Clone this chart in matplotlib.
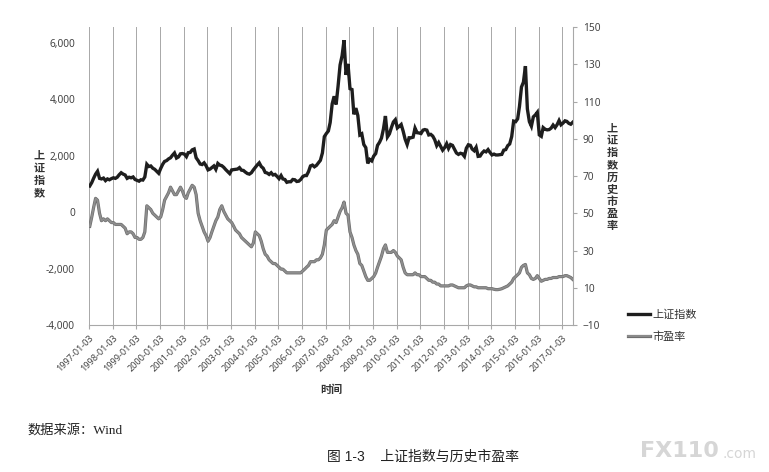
import matplotlib
matplotlib.use("Agg")
import matplotlib.pyplot as plt
import matplotlib.patheffects as pe
from matplotlib.ticker import FuncFormatter, FixedLocator
import pandas as pd

plt.rcParams['font.family'] = ['Noto Sans', 'Noto Sans CJK SC', 'DejaVu Sans']

# ---------------------------------------------------------------------------
# data (monthly)
# ---------------------------------------------------------------------------
sse_index = [
    # 1997
    930, 1050, 1200, 1350, 1450, 1200, 1180, 1210, 1120, 1180, 1150, 1190,
    # 1998
    1220, 1200, 1240, 1330, 1400, 1350, 1320, 1200, 1240, 1220, 1250, 1160,
    # 1999
    1130, 1100, 1150, 1140, 1250, 1700, 1620, 1640, 1560, 1520, 1450, 1380,
    # 2000
    1550, 1700, 1800, 1830, 1890, 1930, 2020, 2100, 1920, 1960, 2070, 2080,
    # 2001
    2060, 1970, 2110, 2120, 2210, 2240, 1930, 1830, 1710, 1690, 1750, 1650,
    # 2002
    1500, 1530, 1580, 1640, 1520, 1730, 1670, 1650, 1590, 1510, 1440, 1370,
    # 2003
    1500, 1510, 1520, 1530, 1580, 1490, 1480, 1420, 1370, 1350, 1400, 1500,
    # 2004
    1590, 1680, 1750, 1620, 1560, 1410, 1390, 1340, 1400, 1320, 1340, 1270,
    # 2005
    1190, 1300, 1180, 1160, 1060, 1080, 1080, 1160, 1150, 1090, 1100, 1160,
    # 2006
    1260, 1300, 1300, 1440, 1640, 1670, 1610, 1660, 1750, 1840, 2100, 2680,
    # 2007
    2790, 2880, 3180, 3840, 4110, 3820, 4470, 5220, 5550, 6100, 4870, 5260,
    # 2008
    4380, 4350, 3470, 3690, 3430, 2740, 2780, 2400, 2290, 1730, 1870, 1820,
    # 2009
    1990, 2080, 2370, 2480, 2630, 2960, 3410, 2670, 2780, 3000, 3200, 3280,
    # 2010
    2990, 3050, 3110, 2870, 2590, 2400, 2640, 2640, 2660, 2980, 2820, 2810,
    # 2011
    2790, 2910, 2930, 2910, 2740, 2760, 2700, 2570, 2360, 2470, 2330, 2200,
    # 2012
    2290, 2430, 2260, 2400, 2370, 2230, 2100, 2050, 2090, 2070, 1980, 2270,
    # 2013
    2390, 2370, 2240, 2180, 2300, 1980, 1990, 2100, 2170, 2140, 2220, 2120,
    # 2014
    2030, 2060, 2030, 2030, 2040, 2050, 2200, 2220, 2360, 2420, 2680, 3230,
    # 2015
    3210, 3310, 3750, 4440, 4610, 5180, 3660, 3210, 3050, 3380, 3450, 3540,
    # 2016
    2740, 2690, 3000, 2940, 2920, 2930, 2980, 3090, 3000, 3100, 3250, 3100,
    # 2017
    3160, 3240, 3220, 3150, 3120, 3190,
]

pe_ratio = [
    # 1997
    43, 48, 53, 58, 57, 50, 46, 47, 46, 47, 46, 45,
    # 1998
    45, 44, 44, 44, 44, 43, 42, 39, 40, 40, 39, 37,
    # 1999
    37, 36, 36, 37, 40, 54, 53, 52, 50, 49, 48, 47,
    # 2000
    48, 52, 57, 59, 61, 64, 62, 60, 60, 62, 64, 62,
    # 2001
    59, 58, 61, 63, 65, 64, 60, 50, 46, 43, 40, 38,
    # 2002
    35, 37, 40, 43, 46, 48, 52, 54, 51, 49, 47, 46,
    # 2003
    45, 43, 41, 40, 39, 37, 36, 35, 34, 33, 32, 34,
    # 2004
    40, 39, 38, 35, 31, 28, 27, 25, 24, 23, 23, 22,
    # 2005
    21, 20, 20, 19, 18, 18, 18, 18, 18, 18, 18, 18,
    # 2006
    19, 20, 21, 22, 24, 24, 24, 25, 25, 26, 28, 33,
    # 2007
    41, 42, 43, 44, 46, 45, 48, 51, 53, 56, 50, 49,
    # 2008
    40, 37, 33, 30, 28, 23, 22, 19, 16, 14, 14, 15,
    # 2009
    16, 18, 21, 24, 27, 31, 33, 29, 29, 29, 30, 29,
    # 2010
    27, 26, 25, 21, 18, 17, 17, 17, 17, 18, 17, 17,
    # 2011
    16, 16, 16, 15, 14, 14, 13, 13, 12, 12, 11, 11,
    # 2012
    11, 11, 11, 11.5, 11.5, 11, 10.5, 10, 10, 10, 10, 11,
    # 2013
    11.5, 11.5, 11, 10.5, 10.5, 10, 10, 10, 10, 10, 9.5, 9.5,
    # 2014
    9.5, 9.2, 9, 9, 9.2, 9.5, 10, 10.5, 11, 12, 13, 15,
    # 2015
    16, 17, 18, 21, 22, 22.5, 18, 17, 15, 14.5, 15, 16.5,
    # 2016
    15, 13.5, 14, 14.5, 14.5, 15, 15, 15.5, 15.5, 15.5, 16, 16,
    # 2017
    16, 16.5, 16.5, 16, 15.5, 14.5,
]

dates = pd.date_range("1997-01-01", periods=len(sse_index), freq="MS") + pd.Timedelta(days=14)
tick_labels = [f"{y}-01-03" for y in range(1997, 2018)]

# ---------------------------------------------------------------------------
# figure
# ---------------------------------------------------------------------------
fig = plt.figure(figsize=(7.69, 4.72), dpi=100)
ax = fig.add_axes([0.1157, 0.3114, 0.6294, 0.6314])
ax2 = ax.twinx()

GRID = "#a8a8a8"
TXT = "#444444"

ln1, = ax.plot(dates, sse_index, color="#1e1e1e", lw=2.4, zorder=3,
               solid_joinstyle="miter")
ln2, = ax2.plot(dates, pe_ratio, color="#8e8e8e", lw=1.3, zorder=3,
                path_effects=[pe.Stroke(linewidth=2.3, foreground="#6e6e6e"), pe.Normal()])

ax.set_ylim(-4000, 6567)
ax2.set_ylim(-10, 150)
ax.set_xlim(pd.Timestamp("1997-01-03"), pd.Timestamp("2017-06-18"))

ax.set_yticks(range(-4000, 6001, 2000))
ax.yaxis.set_major_formatter(FuncFormatter(lambda v, p: f"{int(v):,}"))
ax2.set_yticks(range(-10, 151, 20))

ax.xaxis.set_major_locator(FixedLocator(
    [matplotlib.dates.date2num(pd.Timestamp(t)) for t in tick_labels]))
ax.set_xticklabels(tick_labels, rotation=45, ha="right", rotation_mode="anchor",
                   fontsize=6.5, color=TXT)
ax.grid(axis="x", color=GRID, lw=0.7)

for a in (ax, ax2):
    for s in ("top", "left"):
        a.spines[s].set_visible(False)
ax.spines["right"].set_visible(False)
ax2.spines["bottom"].set_visible(False)
ax.spines["bottom"].set_color(GRID)
ax2.spines["right"].set_color(GRID)

ax.tick_params(axis="y", length=0, labelsize=7.3, labelcolor=TXT, pad=10)
ax.tick_params(axis="x", length=3, color=GRID, pad=3)
ax2.tick_params(axis="y", length=3, color=GRID, labelsize=7.3, labelcolor=TXT, pad=4)

ax.set_xlabel("时间", fontsize=8, fontweight="bold", color="#333333", labelpad=8)

# stacked vertical axis titles
fig.text(39 / 769, 1 - 175 / 472, "上\n证\n指\n数", ha="center", va="center",
         fontsize=8, fontweight="bold", color="#333333", linespacing=1.2)
fig.text(612 / 769, 1 - 178 / 472, "上\n证\n指\n数\n历\n史\n市\n盈\n率",
         ha="center", va="center", fontsize=8, fontweight="bold", color="#333333",
         linespacing=1.15)

# legend
leg = fig.legend([ln1, ln2], ["上证指数", "市盈率"], loc="upper left",
                 bbox_to_anchor=(618 / 769, 1 - 300 / 472), frameon=False,
                 fontsize=8, handlelength=2.0, handletextpad=0.2, labelspacing=1.0,
                 labelcolor="#333333")

# caption / source
fig.text(27 / 769, 1 - 430 / 472, "数据来源：Wind", ha="left", va="center",
         fontsize=9.5, color="#222222",
         family=["Liberation Serif", "Noto Sans CJK SC"])
fig.text(423 / 769, 1 - 457 / 472, "图 1-3    上证指数与历史市盈率", ha="center",
         va="center", fontsize=10, color="#222222",
         family=["Liberation Sans", "Noto Sans CJK SC"])

# watermark
fig.text(640 / 769, 1 - 451 / 472, "FX110", ha="left", va="center", fontsize=16,
         fontweight="bold", color="#d6d6d6", family="DejaVu Sans")
fig.text(722 / 769, 1 - 454 / 472, ".com", ha="left", va="center", fontsize=10,
         color="#d6d6d6", family="DejaVu Sans")

fig.savefig("out.png", dpi=100)
